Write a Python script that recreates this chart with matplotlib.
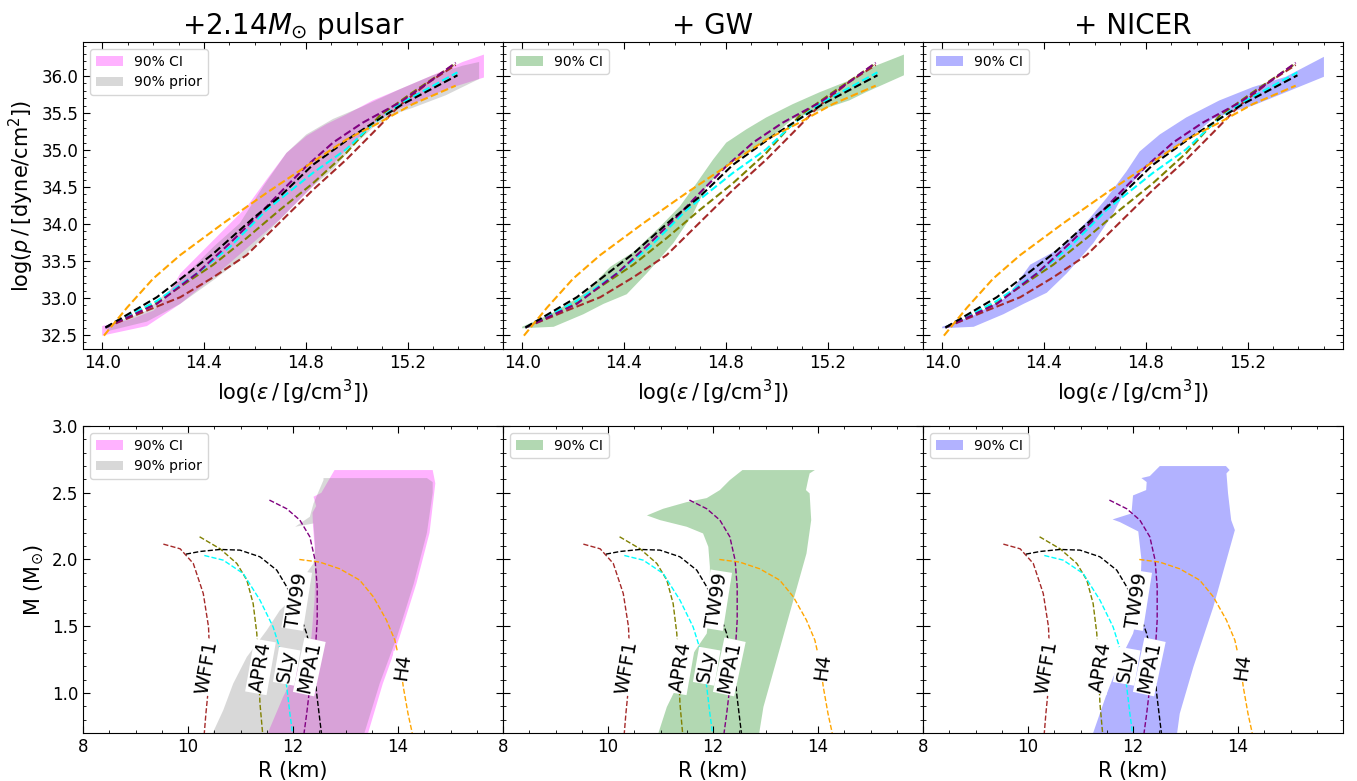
import numpy as np
import matplotlib
matplotlib.use('Agg')
import matplotlib.pyplot as plt
from matplotlib.ticker import MultipleLocator

# ---- EOS models: log(eps) vs log(p) ----
eos_names = ['WFF1', 'APR4', 'SLy', 'MPA1', 'TW99', 'H4']
eos_colors = ['brown', 'olive', 'cyan', 'purple', 'black', 'orange']

eps_wff1 = [14.013, 14.176, 14.307, 14.437, 14.568, 14.698, 14.828, 14.959, 15.063, 15.168, 15.285, 15.389]
p_wff1 = [32.60, 32.83, 33.01, 33.28, 33.58, 34.02, 34.46, 34.87, 35.23, 35.60, 35.92, 36.15]
eps_apr4 = [14.013, 14.215, 14.437, 14.568, 14.698, 14.828, 14.959, 15.089, 15.220, 15.389]
p_apr4 = [32.60, 32.94, 33.45, 33.81, 34.19, 34.55, 34.96, 35.46, 35.78, 36.17]
eps_sly = [14.013, 14.215, 14.372, 14.502, 14.646, 14.828, 14.959, 15.063, 15.168, 15.396]
p_sly = [32.60, 32.96, 33.33, 33.69, 34.19, 34.69, 35.01, 35.35, 35.62, 36.05]
eps_mpa1 = [14.013, 14.215, 14.372, 14.502, 14.620, 14.698, 14.802, 14.907, 15.024, 15.168, 15.285, 15.389]
p_mpa1 = [32.60, 32.92, 33.33, 33.74, 34.14, 34.42, 34.78, 35.10, 35.37, 35.64, 35.92, 36.18]
eps_tw99 = [14.013, 14.215, 14.437, 14.594, 14.698, 14.828, 14.985, 15.089, 15.181, 15.396]
p_tw99 = [32.60, 33.01, 33.60, 34.08, 34.37, 34.80, 35.19, 35.42, 35.62, 36.01]
eps_h4 = [14.007, 14.098, 14.200, 14.307, 14.476, 14.646, 14.802, 14.959, 15.089, 15.220, 15.389]
p_h4 = [32.49, 32.87, 33.26, 33.58, 34.01, 34.42, 34.78, 35.14, 35.37, 35.62, 35.87]

# ---- EOS models: mass-radius ----
r_wff1 = [9.53, 9.85, 10.10, 10.29, 10.39, 10.41, 10.39, 10.34, 10.31]
m_wff1 = [2.115, 2.08, 1.97, 1.745, 1.495, 1.295, 1.045, 0.845, 0.70]
r_apr4 = [10.22, 10.61, 10.93, 11.12, 11.24, 11.31, 11.34, 11.37, 11.42]
m_apr4 = [2.17, 2.08, 1.97, 1.845, 1.67, 1.445, 1.195, 0.92, 0.70]
r_sly = [10.31, 10.67, 11.05, 11.37, 11.62, 11.78, 11.88, 11.94, 11.99]
m_sly = [2.03, 1.995, 1.895, 1.695, 1.495, 1.295, 1.045, 0.845, 0.70]
r_mpa1 = [11.55, 11.88, 12.13, 12.32, 12.42, 12.46, 12.46, 12.42, 12.32, 12.26, 12.21]
m_mpa1 = [2.445, 2.38, 2.295, 2.17, 1.995, 1.795, 1.545, 1.295, 1.045, 0.845, 0.70]
r_tw99 = [9.96, 10.23, 10.61, 10.99, 11.37, 11.69, 11.88, 12.10, 12.26, 12.40, 12.45, 12.54]
m_tw99 = [2.04, 2.06, 2.075, 2.07, 2.02, 1.92, 1.795, 1.62, 1.445, 1.20, 0.995, 0.70]
r_h4 = [12.12, 12.51, 12.89, 13.27, 13.53, 13.78, 13.94, 14.05, 14.10, 14.19, 14.27]
m_h4 = [2.0, 1.98, 1.93, 1.845, 1.72, 1.545, 1.395, 1.20, 1.045, 0.845, 0.70]

# label positions on the M-R curves
lab_r = [10.36, 11.38, 11.88, 12.31, 12.07, 14.08]
lab_m = [1.195, 1.195, 1.20, 1.195, 1.695, 1.195]
lab_rot = [80, 80, 80, 78, 81, 82]

# ---- 90% bands in the p-eps plane (upper and lower edges) ----
pulsar_up_x = [14.000, 14.111, 14.202, 14.254, 14.307, 14.385, 14.463, 14.568, 14.646, 14.724, 14.802, 14.881, 14.959, 15.063, 15.168, 15.298, 15.416, 15.500]
pulsar_up_y = [32.62, 32.71, 32.83, 33.01, 33.33, 33.60, 33.87, 34.23, 34.60, 34.96, 35.19, 35.35, 35.48, 35.67, 35.82, 36.01, 36.19, 36.29]
pulsar_lo_x = [14.000, 14.176, 14.307, 14.437, 14.568, 14.698, 14.828, 14.959, 15.063, 15.142, 15.220, 15.350, 15.500]
pulsar_lo_y = [32.49, 32.62, 32.92, 33.28, 33.67, 34.06, 34.51, 35.01, 35.35, 35.53, 35.62, 35.82, 35.98]

prior_up_x = [14.020, 14.176, 14.307, 14.437, 14.541, 14.633, 14.724, 14.802, 14.907, 15.024, 15.168, 15.298, 15.416, 15.481]
prior_up_y = [32.62, 32.83, 33.24, 33.69, 34.01, 34.51, 34.96, 35.21, 35.42, 35.59, 35.82, 36.01, 36.14, 36.19]
prior_lo_x = [14.020, 14.176, 14.307, 14.437, 14.541, 14.646, 14.750, 14.828, 14.907, 14.985, 15.063, 15.142, 15.220, 15.350, 15.481]
prior_lo_y = [32.55, 32.68, 32.92, 33.24, 33.51, 33.87, 34.24, 34.51, 34.74, 35.05, 35.30, 35.48, 35.57, 35.74, 35.96]

gw_up_x = [14.000, 14.111, 14.241, 14.346, 14.437, 14.541, 14.620, 14.685, 14.750, 14.802, 14.881, 14.959, 15.063, 15.168, 15.285, 15.389, 15.500]
gw_up_y = [32.61, 32.78, 33.05, 33.42, 33.62, 33.96, 34.24, 34.55, 34.87, 35.10, 35.28, 35.44, 35.62, 35.78, 35.94, 36.14, 36.29]
gw_lo_x = [14.000, 14.124, 14.241, 14.320, 14.411, 14.489, 14.594, 14.672, 14.724, 14.802, 14.907, 14.998, 15.063, 15.115, 15.181, 15.285, 15.350, 15.500]
gw_lo_y = [32.59, 32.61, 32.78, 32.92, 33.05, 33.33, 33.74, 34.14, 34.51, 34.78, 35.01, 35.23, 35.42, 35.48, 35.55, 35.67, 35.78, 36.01]

nicer_up_x = [14.000, 14.111, 14.254, 14.346, 14.463, 14.568, 14.646, 14.724, 14.776, 14.855, 14.959, 15.089, 15.220, 15.350, 15.500]
nicer_up_y = [32.61, 32.74, 33.01, 33.45, 33.67, 34.03, 34.35, 34.71, 34.98, 35.21, 35.44, 35.67, 35.85, 35.99, 36.26]
nicer_lo_x = [14.000, 14.124, 14.241, 14.320, 14.411, 14.489, 14.594, 14.672, 14.724, 14.802, 14.907, 14.998, 15.063, 15.142, 15.220, 15.350, 15.500]
nicer_lo_y = [32.59, 32.61, 32.78, 32.92, 33.07, 33.33, 33.74, 34.14, 34.48, 34.76, 35.01, 35.23, 35.42, 35.52, 35.60, 35.78, 35.99]

# ---- 90% regions in the M-R plane (closed outlines) ----
pulsar_r = [11.52, 11.81, 12.13, 12.35, 12.41, 12.43, 12.38, 12.37, 12.44, 12.39, 12.54, 12.79, 14.66, 14.71, 14.60, 14.35, 14.03, 13.71, 13.43]
pulsar_m = [0.70, 0.97, 1.22, 1.42, 1.70, 2.0, 2.25, 2.35, 2.40, 2.47, 2.50, 2.67, 2.67, 2.57, 2.20, 1.82, 1.42, 1.07, 0.70]
prior_r = [10.47, 10.67, 10.86, 11.12, 11.50, 11.75, 12.23, 12.26, 12.39, 12.42, 12.39, 12.04, 12.32, 12.39, 12.58, 12.58, 14.55, 14.66, 14.66, 14.55, 14.30, 13.98, 13.65, 13.36]
prior_m = [0.70, 0.87, 1.07, 1.27, 1.47, 1.62, 1.80, 1.90, 1.97, 2.10, 2.27, 2.245, 2.32, 2.42, 2.595, 2.61, 2.61, 2.58, 2.50, 2.20, 1.82, 1.42, 1.07, 0.70]
gw_r = [10.96, 11.12, 11.37, 11.62, 11.88, 11.94, 11.94, 11.91, 11.81, 11.50, 10.99, 10.74, 11.05, 11.50, 11.88, 12.13, 12.32, 12.56, 13.94, 13.84, 13.81, 13.77, 13.84, 13.87, 13.78, 13.53, 13.21, 12.96, 12.88]
gw_m = [0.70, 0.895, 1.095, 1.295, 1.445, 1.645, 1.945, 2.095, 2.195, 2.245, 2.295, 2.33, 2.38, 2.43, 2.46, 2.52, 2.595, 2.67, 2.67, 2.645, 2.595, 2.52, 2.495, 2.295, 2.045, 1.695, 1.245, 0.895, 0.70]
nicer_r = [11.24, 11.50, 11.75, 12.0, 12.13, 12.16, 12.10, 11.75, 11.61, 11.97, 12.0, 12.25, 12.26, 12.16, 12.32, 12.51, 13.77, 13.84, 13.78, 13.81, 13.87, 13.94, 13.78, 13.53, 13.15, 12.89, 12.84]
nicer_m = [0.70, 0.995, 1.245, 1.445, 1.645, 2.0, 2.21, 2.28, 2.30, 2.345, 2.48, 2.52, 2.58, 2.61, 2.625, 2.70, 2.70, 2.67, 2.645, 2.495, 2.295, 2.22, 1.995, 1.645, 1.195, 0.845, 0.70]

titles = [r'+2.14$M_{\odot}$ pulsar', '+ GW', '+ NICER']
band_colors = ['magenta', 'green', 'blue']

eos_pe = [(eps_wff1, p_wff1), (eps_apr4, p_apr4), (eps_sly, p_sly),
          (eps_mpa1, p_mpa1), (eps_tw99, p_tw99), (eps_h4, p_h4)]
eos_mr = [(r_wff1, m_wff1), (r_apr4, m_apr4), (r_sly, m_sly),
          (r_mpa1, m_mpa1), (r_tw99, m_tw99), (r_h4, m_h4)]
bands_pe = [(pulsar_up_x, pulsar_up_y, pulsar_lo_x, pulsar_lo_y),
            (gw_up_x, gw_up_y, gw_lo_x, gw_lo_y),
            (nicer_up_x, nicer_up_y, nicer_lo_x, nicer_lo_y)]
bands_mr = [(pulsar_r, pulsar_m), (gw_r, gw_m), (nicer_r, nicer_m)]


def band(ax, ux, uy, lx, ly, color, label):
  xs = np.concatenate([ux, lx[::-1]])
  ys = np.concatenate([uy, ly[::-1]])
  ax.fill(xs, ys, color=color, alpha=0.3, lw=0, label=label)


def style(ax, xmin, ymaj, ymin):
  ax.xaxis.set_minor_locator(MultipleLocator(xmin))
  ax.yaxis.set_major_locator(MultipleLocator(ymaj))
  ax.yaxis.set_minor_locator(MultipleLocator(ymin))
  ax.tick_params(which='both', direction='in', top=True, right=True, labelsize=12)
  ax.tick_params(which='major', length=5)
  ax.tick_params(which='minor', length=2.5)


fig, axes = plt.subplots(2, 3, figsize=(13.57, 7.81), dpi=100, sharey='row')
plt.subplots_adjust(left=0.0612, right=0.9897, top=0.9462, bottom=0.0615, wspace=0, hspace=0.251)

for k in range(3):
  ax = axes[0][k]
  ux, uy, lx, ly = bands_pe[k]
  band(ax, ux, uy, lx, ly, band_colors[k], '90% CI')
  if k == 0:
    band(ax, prior_up_x, prior_up_y, prior_lo_x, prior_lo_y, 'gray', '90% prior')
  for (x, y), c in zip(eos_pe, eos_colors):
    ax.plot(x, y, ls='--', color=c, lw=1.5)
  ax.set_xlim(13.925, 15.575)
  ax.set_ylim(32.31, 36.46)
  ax.set_xticks([14.0, 14.4, 14.8, 15.2])
  style(ax, 0.1, 0.5, 0.1)
  ax.set_xlabel(r'log($\varepsilon\,/\,$[g/cm$^3$])', fontsize=15)
  ax.set_title(titles[k], fontsize=20)
  ax.legend(loc='upper left', fontsize=10)

  ax = axes[1][k]
  r, m = bands_mr[k]
  ax.fill(r, m, color=band_colors[k], alpha=0.3, lw=0, label='90% CI')
  if k == 0:
    ax.fill(prior_r, prior_m, color='gray', alpha=0.3, lw=0, label='90% prior')
  for (x, y), c in zip(eos_mr, eos_colors):
    ax.plot(x, y, ls='--', color=c, lw=1)
  for name, rr, mm, rot in zip(eos_names, lab_r, lab_m, lab_rot):
    ax.text(rr, mm, name, rotation=rot, fontsize=14, ha='center', va='center', zorder=5,
            rotation_mode='anchor',
            bbox=dict(facecolor='white', edgecolor='none', pad=1))
  ax.set_xlim(8, 16)
  ax.set_ylim(0.7, 3.0)
  ax.set_xticks([8, 10, 12, 14])
  style(ax, 0.5, 0.5, 0.1)
  ax.set_xlabel('R (km)', fontsize=15)
  ax.legend(loc='upper left', fontsize=10)

axes[0][0].set_ylabel(r'log($p\,/\,$[dyne/cm$^2$])', fontsize=15)
axes[1][0].set_ylabel(r'M (M$_{\odot}$)', fontsize=15)

plt.savefig('out.png')
